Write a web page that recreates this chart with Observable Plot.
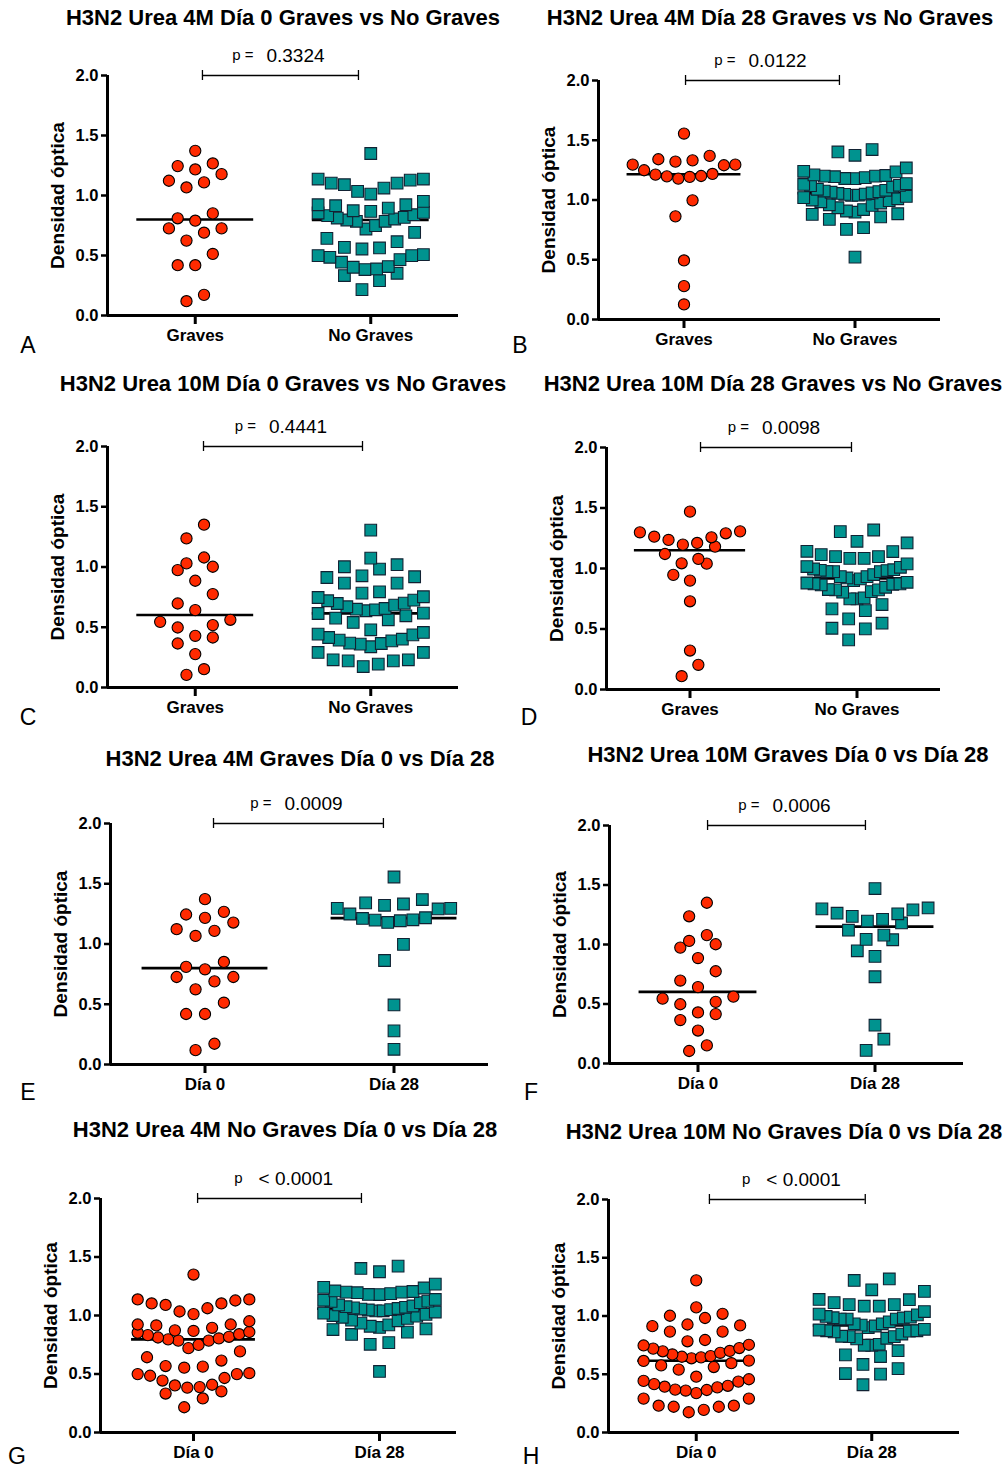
<!DOCTYPE html>
<html><head><meta charset="utf-8">
<script src="https://cdn.jsdelivr.net/npm/d3@7"></script>
<script src="https://cdn.jsdelivr.net/npm/@observablehq/plot@0.6"></script>
<style>
body{margin:0;background:#fff}
#page{position:relative;width:1008px;height:1470px;font-family:"Liberation Sans",Arial,sans-serif;color:#000;overflow:hidden}
.title{position:absolute;font-weight:bold;font-size:22px;white-space:nowrap;transform:translate(-50%,-50%)}
.letter{position:absolute;font-size:23px;line-height:1;transform:translate(-50%,-50%)}
#page svg{position:absolute}
</style></head>
<body><div id="page"></div>
<script>
// ---- data (optical density readings) ----
const graves4M_d0 = [1.372,1.267,1.245,1.217,1.178,1.123,1.109,1.067,0.851,0.810,0.790,0.726,0.726,0.690,0.624,0.513,0.419,0.419,0.172,0.119];
const noGraves4M_d0 = [1.350,1.137,1.137,1.128,1.103,1.090,1.103,1.062,1.034,1.012,0.951,0.923,0.915,0.923,0.895,0.873,0.868,0.859,0.854,0.840,0.832,0.818,0.804,0.812,0.796,0.785,0.785,0.749,0.721,0.693,0.643,0.615,0.568,0.554,0.563,0.507,0.499,0.499,0.485,0.466,0.444,0.408,0.388,0.383,0.402,0.333,0.352,0.291,0.216];
const graves4M_d28 = [1.556,1.369,1.341,1.332,1.321,1.296,1.296,1.291,1.249,1.218,1.212,1.201,1.198,1.193,1.179,0.997,0.863,0.494,0.279,0.126];
const noGraves4M_d28 = [1.422,1.402,1.374,1.268,1.240,1.235,1.210,1.205,1.200,1.200,1.195,1.187,1.180,1.179,1.137,1.130,1.123,1.120,1.110,1.090,1.081,1.075,1.070,1.065,1.060,1.055,1.050,1.047,1.040,1.039,1.030,1.020,1.010,1.000,0.995,0.985,0.975,0.960,0.955,0.935,0.920,0.908,0.898,0.885,0.880,0.858,0.838,0.768,0.754,0.522];
const graves10M_d0 = [1.351,1.237,1.079,1.030,1.002,0.974,0.886,0.775,0.697,0.642,0.562,0.545,0.518,0.498,0.429,0.415,0.365,0.277,0.152,0.105];
const noGraves10M_d0 = [1.306,1.074,1.019,1.002,0.983,0.927,0.913,0.919,0.866,0.866,0.794,0.783,0.753,0.747,0.725,0.700,0.697,0.720,0.684,0.670,0.656,0.637,0.645,0.650,0.617,0.614,0.595,0.576,0.562,0.540,0.479,0.457,0.443,0.437,0.415,0.393,0.401,0.368,0.387,0.360,0.365,0.338,0.291,0.291,0.230,0.221,0.230,0.221,0.194,0.174];
const graves10M_d28 = [1.470,1.307,1.299,1.291,1.263,1.258,1.236,1.211,1.197,1.181,1.120,1.079,1.043,1.040,0.947,0.900,0.729,0.322,0.204,0.110];
const noGraves10M_d28 = [1.318,1.305,1.225,1.211,1.140,1.142,1.115,1.098,1.098,1.084,1.084,1.038,1.010,1.016,0.996,0.990,0.985,0.983,0.974,0.974,0.974,0.950,0.933,0.933,0.922,0.914,0.900,0.886,0.880,0.873,0.873,0.870,0.864,0.845,0.826,0.823,0.823,0.809,0.804,0.757,0.749,0.749,0.702,0.666,0.652,0.584,0.548,0.506,0.501,0.410];

const catsGroup = ["Graves", "No Graves"];
const catsDay = ["Día 0", "Día 28"];
const titles = [
  "H3N2 Urea 4M Día 0 Graves vs No Graves",
  "H3N2 Urea 4M Día 28 Graves vs No Graves",
  "H3N2 Urea 10M Día 0 Graves vs No Graves",
  "H3N2 Urea 10M Día 28 Graves vs No Graves",
  "H3N2 Urea 4M Graves Día 0 vs Día 28",
  "H3N2 Urea 10M Graves Día 0 vs Día 28",
  "H3N2 Urea 4M No Graves Día 0 vs Día 28",
  "H3N2 Urea 10M No Graves Día 0 vs Día 28"
];
const pValues = ["0.3324","0.0122","0.4441","0.0098","0.0009","0.0006","< 0.0001","< 0.0001"];
const letters = ["A","B","C","D","E","F","G","H"];
const yTicks = [0, 0.5, 1.0, 1.5, 2.0];
const yLabel = "Densidad óptica";

const series = [
  [graves4M_d0, noGraves4M_d0],
  [graves4M_d28, noGraves4M_d28],
  [graves10M_d0, noGraves10M_d0],
  [graves10M_d28, noGraves10M_d28],
  [graves4M_d0, graves4M_d28],
  [graves10M_d0, graves10M_d28],
  [noGraves4M_d0, noGraves4M_d28],
  [noGraves10M_d0, noGraves10M_d28]
];
const panelCats = [catsGroup, catsGroup, catsGroup, catsGroup, catsDay, catsDay, catsDay, catsDay];

// ---- layout (page pixels) ----
const layout = [
  {ox:107, right:458, y0:315,  y2:75,   xr:2.5,   br:[1.041,1.930], title:[283,18],   letter:[28,345]},
  {ox:598, right:940, y0:319,  y2:80,   xr:2.5,   br:[1.009,1.909], title:[770,18],   letter:[520,345]},
  {ox:107, right:458, y0:687,  y2:446,  xr:2.5,   br:[1.047,1.953], title:[283,384],  letter:[28,717]},
  {ox:606, right:940, y0:689,  y2:447,  xr:2.5,   br:[1.063,1.967], title:[773,384],  letter:[529,717]},
  {ox:110, right:488, y0:1064, y2:823,  xr:2.5,   br:[1.045,1.944], title:[300,759],  letter:[28,1092]},
  {ox:609, right:963, y0:1063, y2:825,  xr:2.5,   br:[1.054,1.946], title:[788,755],  letter:[531,1092]},
  {ox:100, right:456, y0:1432, y2:1198, xr:2.414, br:[1.022,1.903], title:[285,1130], letter:[17,1456]},
  {ox:608, right:959, y0:1432, y2:1199, xr:2.5,   br:[1.075,1.963], title:[784,1132], letter:[531,1456]}
];

const RED = "#ff2a00", TEAL = "#00938f";
const ROW_GAP = 0.14;      // data units within which points share a row
const SMAX = 0.1;          // max horizontal spacing (x units)
const SPAN = 0.6;          // max row width (x units)
const HALF = 0.333;        // median line half width (x units)

// Prism-like column scatter: rows of nearby values, spread symmetrically, lowest in centre
function columnScatter(values, cat) {
  const sorted = values.map(v => ({v})).sort((a, b) => a.v - b.v);
  const rows = []; let cur = null;
  for (const d of sorted) {
    if (!cur || d.v - cur[0].v > ROW_GAP) { cur = [d]; rows.push(cur); }
    else cur.push(d);
  }
  const out = [];
  for (const row of rows) {
    const n = row.length;
    const s = n > 1 ? Math.min(SMAX, SPAN / (n - 1)) : 0;
    const slots = [];
    if (n % 2) { slots.push(0); for (let k = 1; slots.length < n; k++) { slots.push(-k); if (slots.length < n) slots.push(k); } }
    else { for (let k = 0.5; slots.length < n; k++) { slots.push(-k); slots.push(k); } }
    row.forEach((d, j) => out.push({x: cat + slots[j] * s, value: d.v}));
  }
  return out;
}

const page = document.getElementById("page");
const ML = 80, MR = 12, MT = 50, MB = 45;
const FONT = "'Liberation Sans', Arial, sans-serif";

layout.forEach((L, i) => {
  const [s0, s1] = series[i];
  const cats = panelCats[i];
  const pts0 = columnScatter(s0, 1);
  const pts1 = columnScatter(s1, 2);
  const medians = [{x: 1, m: d3.median(s0)}, {x: 2, m: d3.median(s1)}];
  const pxPerY = (L.y0 - L.y2) / 2;
  const tickH = 5 / pxPerY;
  const bc = (L.br[0] + L.br[1]) / 2;
  const pv = pValues[i];
  const isLess = pv.startsWith("<");

  const svg = Plot.plot({
    width: (L.right - L.ox) + ML + MR,
    height: (L.y0 - L.y2) + MT + MB,
    marginLeft: ML, marginRight: MR, marginTop: MT, marginBottom: MB,
    style: {fontFamily: FONT, background: "transparent", overflow: "visible", color: "#000"},
    x: {domain: [0.5, L.xr], label: null},
    y: {domain: [0, 2], label: null},
    marks: [
      Plot.ruleY(medians, {y: "m", x1: d => d.x - HALF, x2: d => d.x + HALF, stroke: "#000", strokeWidth: 2.6}),
      Plot.dot(pts0, {x: "x", y: "value", r: 5.6, symbol: "circle", fill: RED, stroke: "#000", strokeWidth: 1.1}),
      Plot.dot(pts1, {x: "x", y: "value", r: 6.6, symbol: "square", fill: TEAL, stroke: "#123", strokeWidth: 1.1}),
      Plot.ruleX([0.5], {y1: 0, y2: 2, stroke: "#000", strokeWidth: 3}),
      Plot.ruleY([0], {x1: 0.5, x2: L.xr, stroke: "#000", strokeWidth: 3}),
      Plot.axisY({ticks: yTicks, tickFormat: d3.format(".1f"), tickSize: 6, tickPadding: 3, strokeWidth: 2.5, label: null, fontSize: 16.5, fontWeight: "bold"}),
      Plot.axisX({ticks: [1, 2], tickFormat: d => cats[d - 1], tickSize: 9, tickPadding: 4, strokeWidth: 3, label: null, fontSize: 17, fontWeight: "bold"}),
      Plot.text([yLabel], {frameAnchor: "left", textAnchor: "middle", rotate: -90, dx: -50, fontSize: 19, fontWeight: "bold", fill: "#000"}),
      Plot.ruleY([2], {x1: L.br[0], x2: L.br[1], stroke: "#000", strokeWidth: 1.3}),
      Plot.ruleX(L.br, {x: d => d, y1: 2 - tickH, y2: 2 + tickH, stroke: "#000", strokeWidth: 1.3}),
      Plot.text([isLess ? "p" : "p ="], {x: bc, y: 2, dy: -20, dx: isLess ? -37 : -27, textAnchor: "end", fontSize: 15, fill: "#000"}),
      Plot.text([pv], {x: bc, y: 2, dy: -20, dx: isLess ? -21 : -14, textAnchor: "start", fontSize: 19, fill: "#000"})
    ]
  });
  svg.style.left = (L.ox - ML) + "px";
  svg.style.top = (L.y2 - MT) + "px";
  page.appendChild(svg);

  const t = document.createElement("div");
  t.className = "title"; t.textContent = titles[i];
  t.style.left = L.title[0] + "px"; t.style.top = L.title[1] + "px";
  page.appendChild(t);

  const l = document.createElement("div");
  l.className = "letter"; l.textContent = letters[i];
  l.style.left = L.letter[0] + "px"; l.style.top = L.letter[1] + "px";
  page.appendChild(l);
});
</script>
</body></html>
